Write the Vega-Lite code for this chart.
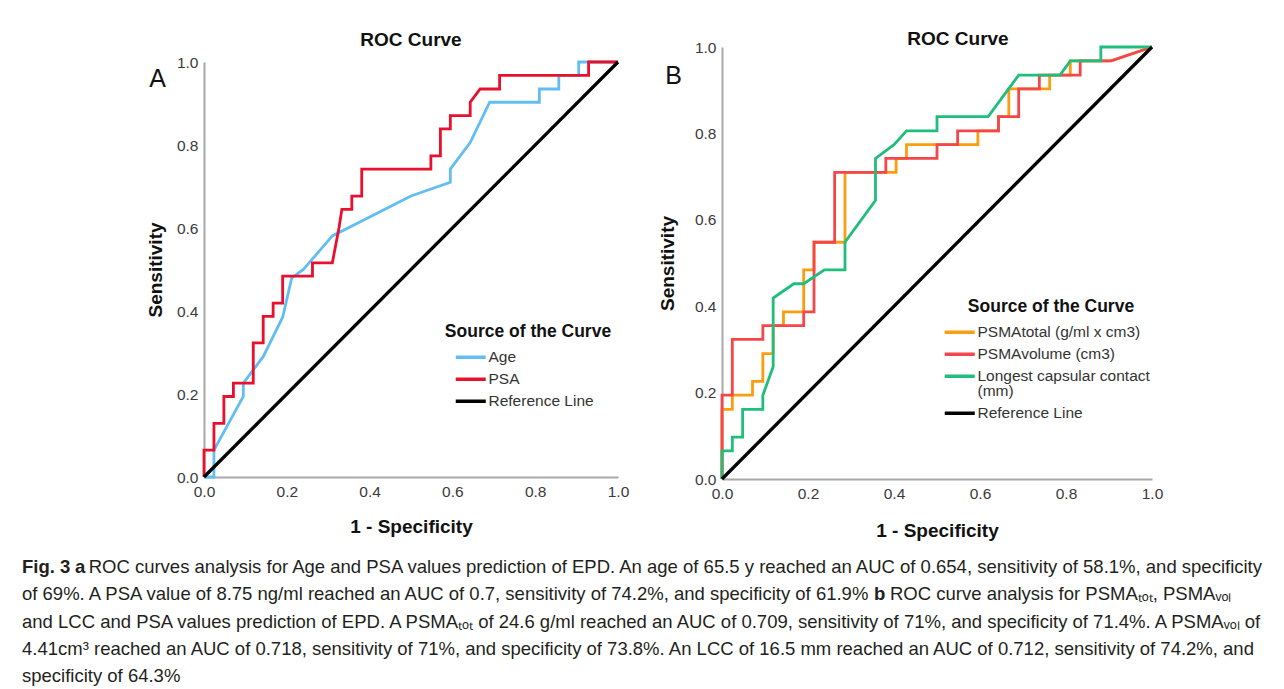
{
  "$schema": "https://vega.github.io/schema/vega-lite/v6.json",
  "background": "#ffffff",
  "padding": {"left": 22, "top": 30, "right": 0, "bottom": 0},
  "config": {
    "font": "Liberation Sans",
    "view": {"stroke": null},
    "style": {"guide-label": {"lineHeight": 15}},
    "axis": {
      "domainColor": "#a8a8a8",
      "domainWidth": 2,
      "ticks": false,
      "grid": false,
      "labelFontSize": 15.5,
      "labelColor": "#3a3a3a",
      "labelPadding": 6,
      "labelFlush": false,
      "titleFontSize": 19,
      "titleFontWeight": "bold",
      "titleColor": "#111111",
      "format": ".1f"
    },
    "axisX": {"labelPadding": 7},
    "legend": {
      "titleFontSize": 17.5,
      "titleFontWeight": "bold",
      "titleColor": "#111111",
      "titleAnchor": "middle",
      "titlePadding": 9,
      "labelFontSize": 15.5,
      "labelColor": "#333333",
      "labelOffset": 10,
      "labelLimit": 260,
      "symbolType": "M-3,0H3",
      "symbolSize": 100,
      "symbolStrokeWidth": 3.5,
      "rowPadding": 5
    },
    "title": {"fontSize": 19, "fontWeight": "bold", "color": "#111111"}
  },
  "spacing": 12,
  "vconcat": [
    {
      "hconcat": [
        {
          "width": 414,
          "height": 430,
          "title": {"text": "ROC Curve", "offset": -3},
          "data": {"values": [
            {"s": "Age", "x": 0, "y": 0}, {"s": "Age", "x": 0.024, "y": 0}, {"s": "Age", "x": 0.024, "y": 0.065},
            {"s": "Age", "x": 0.095, "y": 0.194}, {"s": "Age", "x": 0.095, "y": 0.226}, {"s": "Age", "x": 0.143, "y": 0.29},
            {"s": "Age", "x": 0.19, "y": 0.385}, {"s": "Age", "x": 0.212, "y": 0.48}, {"s": "Age", "x": 0.24, "y": 0.5},
            {"s": "Age", "x": 0.31, "y": 0.581}, {"s": "Age", "x": 0.5, "y": 0.677}, {"s": "Age", "x": 0.595, "y": 0.71},
            {"s": "Age", "x": 0.595, "y": 0.742}, {"s": "Age", "x": 0.643, "y": 0.806}, {"s": "Age", "x": 0.69, "y": 0.903},
            {"s": "Age", "x": 0.81, "y": 0.903}, {"s": "Age", "x": 0.81, "y": 0.935}, {"s": "Age", "x": 0.857, "y": 0.935},
            {"s": "Age", "x": 0.857, "y": 0.968}, {"s": "Age", "x": 0.905, "y": 0.968}, {"s": "Age", "x": 0.905, "y": 1},
            {"s": "Age", "x": 1, "y": 1},
            {"s": "PSA", "x": 0, "y": 0}, {"s": "PSA", "x": 0, "y": 0.065}, {"s": "PSA", "x": 0.024, "y": 0.065},
            {"s": "PSA", "x": 0.024, "y": 0.129}, {"s": "PSA", "x": 0.048, "y": 0.129}, {"s": "PSA", "x": 0.048, "y": 0.194},
            {"s": "PSA", "x": 0.071, "y": 0.194}, {"s": "PSA", "x": 0.071, "y": 0.226}, {"s": "PSA", "x": 0.119, "y": 0.226},
            {"s": "PSA", "x": 0.119, "y": 0.323}, {"s": "PSA", "x": 0.143, "y": 0.323}, {"s": "PSA", "x": 0.143, "y": 0.387},
            {"s": "PSA", "x": 0.167, "y": 0.387}, {"s": "PSA", "x": 0.167, "y": 0.419}, {"s": "PSA", "x": 0.19, "y": 0.419},
            {"s": "PSA", "x": 0.19, "y": 0.484}, {"s": "PSA", "x": 0.262, "y": 0.484}, {"s": "PSA", "x": 0.262, "y": 0.516},
            {"s": "PSA", "x": 0.31, "y": 0.516}, {"s": "PSA", "x": 0.326, "y": 0.6}, {"s": "PSA", "x": 0.333, "y": 0.645},
            {"s": "PSA", "x": 0.357, "y": 0.645}, {"s": "PSA", "x": 0.357, "y": 0.677}, {"s": "PSA", "x": 0.381, "y": 0.677},
            {"s": "PSA", "x": 0.381, "y": 0.742}, {"s": "PSA", "x": 0.548, "y": 0.742}, {"s": "PSA", "x": 0.548, "y": 0.774},
            {"s": "PSA", "x": 0.571, "y": 0.774}, {"s": "PSA", "x": 0.571, "y": 0.839}, {"s": "PSA", "x": 0.595, "y": 0.839},
            {"s": "PSA", "x": 0.595, "y": 0.871}, {"s": "PSA", "x": 0.643, "y": 0.871}, {"s": "PSA", "x": 0.643, "y": 0.903},
            {"s": "PSA", "x": 0.667, "y": 0.935}, {"s": "PSA", "x": 0.714, "y": 0.935}, {"s": "PSA", "x": 0.714, "y": 0.968},
            {"s": "PSA", "x": 0.929, "y": 0.968}, {"s": "PSA", "x": 0.929, "y": 1}, {"s": "PSA", "x": 1, "y": 1},
            {"s": "Reference Line", "x": 0, "y": 0}, {"s": "Reference Line", "x": 1, "y": 1}
          ]},
          "layer": [
            {
              "mark": {"type": "line", "strokeJoin": "miter"},
              "encoding": {
                "x": {"field": "x", "type": "quantitative", "scale": {"domain": [0, 1], "nice": false, "zero": false},
                      "axis": {"title": "1 - Specificity", "values": [0, 0.2, 0.4, 0.6, 0.8, 1], "titlePadding": 18}},
                "y": {"field": "y", "type": "quantitative", "scale": {"domain": [0, 1], "nice": false, "zero": false, "range": [430, 15]},
                      "axis": {"title": "Sensitivity", "values": [0, 0.2, 0.4, 0.6, 0.8, 1], "titlePadding": 11}},
                "color": {"field": "s", "type": "nominal",
                          "scale": {"domain": ["Age", "PSA", "Reference Line"], "range": ["#62BDF3", "#E8102C", "#000000"]},
                          "legend": {"title": "Source of the Curve", "orient": "none", "legendX": 241, "legendY": 276}},
                "strokeWidth": {"condition": {"test": "datum.s === 'Reference Line'", "value": 3.3}, "value": 2.8},
                "order": {"value": null}
              }
            },
            {
              "transform": [{"filter": "datum.s === 'Reference Line'"}],
              "mark": {"type": "point", "opacity": 0},
              "encoding": {
                "x": {"field": "x", "type": "quantitative",
                      "axis": {"orient": "top", "title": "A", "labels": false, "ticks": false, "domain": false,
                               "titleX": -47, "titleY": 31, "titleAngle": 0, "titleAlign": "center", "titleBaseline": "middle",
                               "titleFontSize": 25, "titleFontWeight": "normal", "titleColor": "#111111"}},
                "y": {"field": "y", "type": "quantitative"}
              }
            }
          ],
          "resolve": {"axis": {"x": "independent"}}
        },
        {
          "width": 430,
          "height": 432,
          "title": {"text": "ROC Curve", "offset": -9, "dx": 21},
          "data": {"values": [
            {"s": "PSMAtotal (g/ml x cm3)", "x": 0, "y": 0}, {"s": "PSMAtotal (g/ml x cm3)", "x": 0, "y": 0.161},
            {"s": "PSMAtotal (g/ml x cm3)", "x": 0.024, "y": 0.161}, {"s": "PSMAtotal (g/ml x cm3)", "x": 0.024, "y": 0.194},
            {"s": "PSMAtotal (g/ml x cm3)", "x": 0.071, "y": 0.194}, {"s": "PSMAtotal (g/ml x cm3)", "x": 0.071, "y": 0.226},
            {"s": "PSMAtotal (g/ml x cm3)", "x": 0.095, "y": 0.226}, {"s": "PSMAtotal (g/ml x cm3)", "x": 0.095, "y": 0.29},
            {"s": "PSMAtotal (g/ml x cm3)", "x": 0.119, "y": 0.29}, {"s": "PSMAtotal (g/ml x cm3)", "x": 0.119, "y": 0.355},
            {"s": "PSMAtotal (g/ml x cm3)", "x": 0.143, "y": 0.355}, {"s": "PSMAtotal (g/ml x cm3)", "x": 0.143, "y": 0.387},
            {"s": "PSMAtotal (g/ml x cm3)", "x": 0.19, "y": 0.387}, {"s": "PSMAtotal (g/ml x cm3)", "x": 0.19, "y": 0.484},
            {"s": "PSMAtotal (g/ml x cm3)", "x": 0.214, "y": 0.484}, {"s": "PSMAtotal (g/ml x cm3)", "x": 0.214, "y": 0.548},
            {"s": "PSMAtotal (g/ml x cm3)", "x": 0.286, "y": 0.548}, {"s": "PSMAtotal (g/ml x cm3)", "x": 0.286, "y": 0.71},
            {"s": "PSMAtotal (g/ml x cm3)", "x": 0.405, "y": 0.71}, {"s": "PSMAtotal (g/ml x cm3)", "x": 0.405, "y": 0.742},
            {"s": "PSMAtotal (g/ml x cm3)", "x": 0.429, "y": 0.742}, {"s": "PSMAtotal (g/ml x cm3)", "x": 0.429, "y": 0.774},
            {"s": "PSMAtotal (g/ml x cm3)", "x": 0.595, "y": 0.774}, {"s": "PSMAtotal (g/ml x cm3)", "x": 0.595, "y": 0.806},
            {"s": "PSMAtotal (g/ml x cm3)", "x": 0.643, "y": 0.806}, {"s": "PSMAtotal (g/ml x cm3)", "x": 0.643, "y": 0.839},
            {"s": "PSMAtotal (g/ml x cm3)", "x": 0.667, "y": 0.839}, {"s": "PSMAtotal (g/ml x cm3)", "x": 0.667, "y": 0.903},
            {"s": "PSMAtotal (g/ml x cm3)", "x": 0.762, "y": 0.903}, {"s": "PSMAtotal (g/ml x cm3)", "x": 0.762, "y": 0.935},
            {"s": "PSMAtotal (g/ml x cm3)", "x": 0.81, "y": 0.935}, {"s": "PSMAtotal (g/ml x cm3)", "x": 0.81, "y": 0.968},
            {"s": "PSMAtotal (g/ml x cm3)", "x": 0.905, "y": 0.968}, {"s": "PSMAtotal (g/ml x cm3)", "x": 1, "y": 1},
            {"s": "PSMAvolume (cm3)", "x": 0, "y": 0}, {"s": "PSMAvolume (cm3)", "x": 0, "y": 0.194},
            {"s": "PSMAvolume (cm3)", "x": 0.024, "y": 0.194}, {"s": "PSMAvolume (cm3)", "x": 0.024, "y": 0.323},
            {"s": "PSMAvolume (cm3)", "x": 0.095, "y": 0.323}, {"s": "PSMAvolume (cm3)", "x": 0.095, "y": 0.355},
            {"s": "PSMAvolume (cm3)", "x": 0.19, "y": 0.355}, {"s": "PSMAvolume (cm3)", "x": 0.19, "y": 0.387},
            {"s": "PSMAvolume (cm3)", "x": 0.214, "y": 0.387}, {"s": "PSMAvolume (cm3)", "x": 0.214, "y": 0.548},
            {"s": "PSMAvolume (cm3)", "x": 0.262, "y": 0.548}, {"s": "PSMAvolume (cm3)", "x": 0.262, "y": 0.71},
            {"s": "PSMAvolume (cm3)", "x": 0.381, "y": 0.71}, {"s": "PSMAvolume (cm3)", "x": 0.381, "y": 0.742},
            {"s": "PSMAvolume (cm3)", "x": 0.5, "y": 0.742}, {"s": "PSMAvolume (cm3)", "x": 0.5, "y": 0.774},
            {"s": "PSMAvolume (cm3)", "x": 0.548, "y": 0.774}, {"s": "PSMAvolume (cm3)", "x": 0.548, "y": 0.806},
            {"s": "PSMAvolume (cm3)", "x": 0.643, "y": 0.806}, {"s": "PSMAvolume (cm3)", "x": 0.643, "y": 0.839},
            {"s": "PSMAvolume (cm3)", "x": 0.69, "y": 0.839}, {"s": "PSMAvolume (cm3)", "x": 0.69, "y": 0.903},
            {"s": "PSMAvolume (cm3)", "x": 0.738, "y": 0.903}, {"s": "PSMAvolume (cm3)", "x": 0.738, "y": 0.935},
            {"s": "PSMAvolume (cm3)", "x": 0.833, "y": 0.935}, {"s": "PSMAvolume (cm3)", "x": 0.833, "y": 0.968},
            {"s": "PSMAvolume (cm3)", "x": 0.905, "y": 0.968}, {"s": "PSMAvolume (cm3)", "x": 1, "y": 1},
            {"s": "Longest capsular contact (mm)", "x": 0, "y": 0}, {"s": "Longest capsular contact (mm)", "x": 0, "y": 0.065},
            {"s": "Longest capsular contact (mm)", "x": 0.024, "y": 0.065}, {"s": "Longest capsular contact (mm)", "x": 0.024, "y": 0.097},
            {"s": "Longest capsular contact (mm)", "x": 0.048, "y": 0.097}, {"s": "Longest capsular contact (mm)", "x": 0.048, "y": 0.161},
            {"s": "Longest capsular contact (mm)", "x": 0.095, "y": 0.161}, {"s": "Longest capsular contact (mm)", "x": 0.095, "y": 0.194},
            {"s": "Longest capsular contact (mm)", "x": 0.119, "y": 0.26}, {"s": "Longest capsular contact (mm)", "x": 0.119, "y": 0.419},
            {"s": "Longest capsular contact (mm)", "x": 0.167, "y": 0.452}, {"s": "Longest capsular contact (mm)", "x": 0.19, "y": 0.452},
            {"s": "Longest capsular contact (mm)", "x": 0.238, "y": 0.484}, {"s": "Longest capsular contact (mm)", "x": 0.286, "y": 0.484},
            {"s": "Longest capsular contact (mm)", "x": 0.286, "y": 0.548}, {"s": "Longest capsular contact (mm)", "x": 0.357, "y": 0.645},
            {"s": "Longest capsular contact (mm)", "x": 0.357, "y": 0.742}, {"s": "Longest capsular contact (mm)", "x": 0.4, "y": 0.774},
            {"s": "Longest capsular contact (mm)", "x": 0.429, "y": 0.806}, {"s": "Longest capsular contact (mm)", "x": 0.5, "y": 0.806},
            {"s": "Longest capsular contact (mm)", "x": 0.5, "y": 0.839}, {"s": "Longest capsular contact (mm)", "x": 0.619, "y": 0.839},
            {"s": "Longest capsular contact (mm)", "x": 0.69, "y": 0.935}, {"s": "Longest capsular contact (mm)", "x": 0.786, "y": 0.935},
            {"s": "Longest capsular contact (mm)", "x": 0.81, "y": 0.968}, {"s": "Longest capsular contact (mm)", "x": 0.881, "y": 0.968},
            {"s": "Longest capsular contact (mm)", "x": 0.881, "y": 1}, {"s": "Longest capsular contact (mm)", "x": 1, "y": 1},
            {"s": "Reference Line", "x": 0, "y": 0}, {"s": "Reference Line", "x": 1, "y": 1}
          ]},
          "layer": [
            {
              "mark": {"type": "line", "strokeJoin": "miter"},
              "encoding": {
                "x": {"field": "x", "type": "quantitative", "scale": {"domain": [0, 1], "nice": false, "zero": false},
                      "axis": {"title": "1 - Specificity", "values": [0, 0.2, 0.4, 0.6, 0.8, 1], "titlePadding": 20}},
                "y": {"field": "y", "type": "quantitative", "scale": {"domain": [0, 1], "nice": false, "zero": false},
                      "axis": {"title": "Sensitivity", "values": [0, 0.2, 0.4, 0.6, 0.8, 1], "titlePadding": 17}},
                "color": {"field": "s", "type": "nominal",
                          "scale": {"domain": ["PSMAtotal (g/ml x cm3)", "PSMAvolume (cm3)", "Longest capsular contact (mm)", "Reference Line"],
                                    "range": ["#FA9D0E", "#F4474B", "#1FBE7C", "#000000"]},
                          "legend": {"title": "Source of the Curve", "orient": "none", "legendX": 230, "legendY": 251,
                                     "labelExpr": "datum.label === 'Longest capsular contact (mm)' ? ['Longest capsular contact', '(mm)'] : datum.label"}},
                "strokeWidth": {"condition": {"test": "datum.s === 'Reference Line'", "value": 3.3}, "value": 2.8},
                "order": {"value": null}
              }
            },
            {
              "transform": [{"filter": "datum.s === 'Reference Line'"}],
              "mark": {"type": "point", "opacity": 0},
              "encoding": {
                "x": {"field": "x", "type": "quantitative",
                      "axis": {"orient": "top", "title": "B", "labels": false, "ticks": false, "domain": false,
                               "titleX": -49, "titleY": 28, "titleAngle": 0, "titleAlign": "center", "titleBaseline": "middle",
                               "titleFontSize": 25, "titleFontWeight": "normal", "titleColor": "#111111"}},
                "y": {"field": "y", "type": "quantitative"}
              }
            }
          ],
          "resolve": {"axis": {"x": "independent"}}
        }
      ],
      "spacing": 29,
      "resolve": {"scale": {"color": "independent"}, "legend": {"color": "independent"}}
    },
    {
      "width": 1240,
      "height": 137,
      "data": {"values": [
        {"line": 1, "part": "fig", "text": "Fig. 3"},
        {"line": 1, "part": "a", "text": "a"},
        {"line": 1, "part": "l1", "text": "ROC curves analysis for Age and PSA values prediction of EPD. An age of 65.5 y reached an AUC of 0.654, sensitivity of 58.1%, and specificity"},
        {"line": 2, "part": "l2a", "text": "of 69%. A PSA value of 8.75 ng/ml reached an AUC of 0.7, sensitivity of 74.2%, and specificity of 61.9%"},
        {"line": 2, "part": "b", "text": "b"},
        {"line": 2, "part": "l2b", "text": "ROC curve analysis for PSMAₜₒₜ, PSMAᵥₒₗ"},
        {"line": 3, "part": "body", "text": "and LCC and PSA values prediction of EPD. A PSMAₜₒₜ of 24.6 g/ml reached an AUC of 0.709, sensitivity of 71%, and specificity of 71.4%. A PSMAᵥₒₗ of"},
        {"line": 4, "part": "body", "text": "4.41cm³ reached an AUC of 0.718, sensitivity of 71%, and specificity of 73.8%. An LCC of 16.5 mm reached an AUC of 0.712, sensitivity of 74.2%, and"},
        {"line": 5, "part": "body", "text": "specificity of 64.3%"}
      ]},
      "encoding": {
        "y": {"field": "line", "type": "ordinal", "axis": null},
        "text": {"field": "text"}
      },
      "layer": [
        {"transform": [{"filter": "datum.part === 'fig'"}],
         "mark": {"type": "text", "align": "left", "baseline": "middle", "fontSize": 18.5, "fontWeight": "bold", "color": "#231f20", "dx": -182},
         "encoding": {"x": {"value": 0}}},
        {"transform": [{"filter": "datum.part === 'a'"}],
         "mark": {"type": "text", "align": "left", "baseline": "middle", "fontSize": 18.5, "fontWeight": "bold", "color": "#231f20", "dx": -129},
         "encoding": {"x": {"value": 0}}},
        {"transform": [{"filter": "datum.part === 'l1'"}],
         "mark": {"type": "text", "align": "right", "baseline": "middle", "fontSize": 18.5, "color": "#231f20", "dx": -182},
         "encoding": {"x": {"value": "width"}}},
        {"transform": [{"filter": "datum.part === 'l2a' || datum.part === 'body'"}],
         "mark": {"type": "text", "align": "left", "baseline": "middle", "fontSize": 18.5, "color": "#231f20", "dx": -182},
         "encoding": {"x": {"value": 0}}},
        {"transform": [{"filter": "datum.part === 'b'"}],
         "mark": {"type": "text", "align": "left", "baseline": "middle", "fontSize": 18.5, "fontWeight": "bold", "color": "#231f20", "dx": 670},
         "encoding": {"x": {"value": 0}}},
        {"transform": [{"filter": "datum.part === 'l2b'"}],
         "mark": {"type": "text", "align": "left", "baseline": "middle", "fontSize": 18.5, "color": "#231f20", "dx": 686},
         "encoding": {"x": {"value": 0}}}
      ]
    }
  ]
}
